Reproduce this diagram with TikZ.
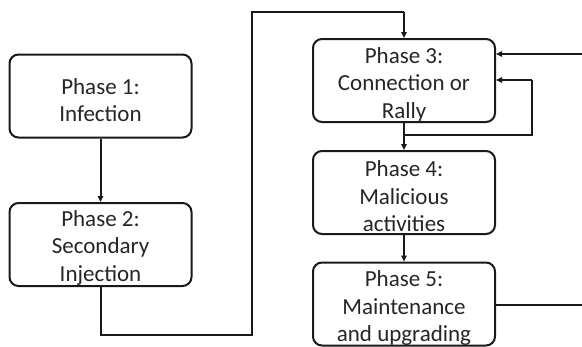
\documentclass[tikz,border=0pt]{standalone}
\usepackage{fontspec}
\setmainfont{Carlito}
\usetikzlibrary{arrows.meta}
\begin{document}
\begin{tikzpicture}[x=1pt,y=-1pt,
  phasebox/.style={draw=black!90, line width=2pt, rounded corners=9pt, minimum width=182pt, minimum height=83pt, inner sep=0pt},
  phasetext/.style={align=center, inner sep=0pt, text=black!85, font=\fontsize{23}{27.5}\selectfont},
  conn/.style={draw=black!90, line width=2pt},
  arr/.style={conn, -{Triangle[length=6pt,width=5.5pt]}}]
\useasboundingbox (0,0) rectangle (582,346);
\fill[white] (0,0) rectangle (582,346);
% boxes
\node[phasebox] (b1) at (100.5,96) {};
\node[phasebox] (b2) at (100.5,244.5) {};
\node[phasebox] (b3) at (404,80.5) {};
\node[phasebox] (b4) at (404,192.5) {};
\node[phasebox] (b5) at (404,304) {};
% texts
\node[phasetext, yshift=-4pt] (t1) at (b1.center) {Phase 1:\\Infection};
\node[phasetext, yshift=-3pt] (t2) at (b2.center) {Phase 2:\\Secondary\\Injection};
\node[phasetext, yshift=-4pt] (t3) at (b3.center) {Phase 3:\\Connection or\\Rally};
\node[phasetext, yshift=-4pt] (t4) at (b4.center) {Phase 4:\\Malicious\\activities};
\node[phasetext, yshift=-4pt] (t5) at (b5.center) {Phase 5:\\Maintenance\\and upgrading};
% helper coordinates
\coordinate (c1) at (100.5,335);
\coordinate (c2) at (252,335);
\coordinate (c3) at (252,12);
\coordinate (c4) at (404,12);
\coordinate (s34) at (404,135);
\coordinate (l1) at (532,135);
\coordinate (l2) at (532,80);
\coordinate (r3) at (582,54);
\coordinate (r5) at (582,305);
% connectors
\draw[arr] (b1.south) -- (b2.north);
\draw[conn] (b2.south) -- (c1) -- (c2) -- (c3) -- (c4);
\draw[arr] (c4) -- (b3.north);
\draw[arr] (b3.south) -- (b4.north);
\draw[conn] (s34) -- (l1) -- (l2);
\draw[arr] (l2) -- (b3.east |- l2);
\draw[arr] (r3) -- (b3.east |- r3);
\draw[arr] (b4.south) -- (b5.north);
\draw[conn] (b5.east |- r5) -- (r5);
\end{tikzpicture}
\end{document}
